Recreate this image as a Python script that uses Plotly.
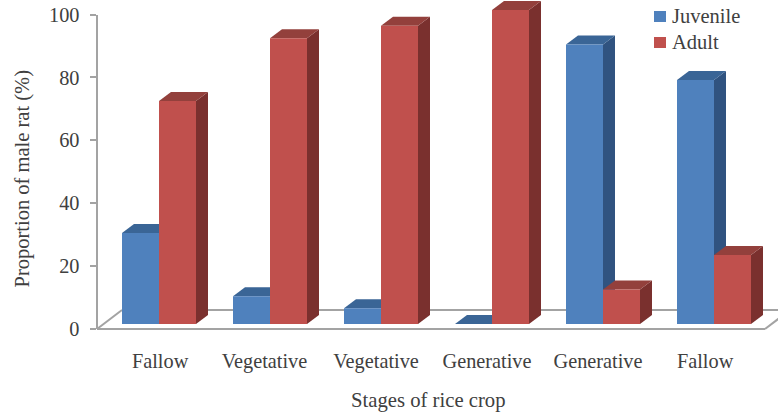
import plotly.graph_objects as go

categories = ["Fallow", "Vegetative", "Vegetative", "Generative", "Generative", "Fallow"]
juvenile = [29, 8.8, 5, 0, 89, 77.7]
adult = [71, 91, 95, 100, 11, 22]
y_ticks = [0, 20, 40, 60, 80, 100]
series_names = ["Juvenile", "Adult"]

W, H = 778, 413
FONT = "Liberation Serif"
TEXT = "#404040"
AXIS = "#a3a3a3"
BLUE, BLUE_TOP, BLUE_SIDE = "#4F81BD", "#3A6596", "#305380"
RED, RED_TOP, RED_SIDE = "#C0504D", "#93403C", "#7A302E"

# pixel geometry of the pseudo-3D plot
GROUP0_PX, GROUP_PX = 159.0, 111.0
BAR_W = 1 / 3
DEPTH_X = 12 / GROUP_PX
VAL_PX = 3.14
BASE_PX = 324.0
DEPTH_Y = 9 / VAL_PX
FLOOR_FRONT = (BASE_PX - 329) / VAL_PX
FLOOR_BACK = (BASE_PX - 310) / VAL_PX
LABEL_SHIFT = [0.01, -0.05, -0.045, -0.045, -0.045, -0.08]

x_range = [-GROUP0_PX / GROUP_PX, (W - GROUP0_PX) / GROUP_PX]
y2_range = [(BASE_PX - H) / VAL_PX, BASE_PX / VAL_PX]
x_idx = list(range(len(categories)))


def poly(pts, color):
    path = "M" + "L".join(f"{x:.4f},{y:.4f}" for x, y in pts) + "Z"
    return dict(type="path", xref="x", yref="y2", path=path, layer="below",
                fillcolor=color, line=dict(width=0))


def faces(left, value, top_color, side_color):
    right = left + BAR_W
    side = [(right, 0), (right + DEPTH_X, DEPTH_Y), (right + DEPTH_X, value + DEPTH_Y), (right, value)]
    top = [(left, value), (right, value), (right + DEPTH_X, value + DEPTH_Y), (left + DEPTH_X, value + DEPTH_Y)]
    return [poly(side, side_color), poly(top, top_color)]


def floor_line(x0, y0, x1, y1):
    return dict(type="line", xref="x", yref="y2", x0=x0, y0=y0, x1=x1, y1=y1,
                layer="below", line=dict(color=AXIS, width=2))


px_x = lambda p: (p - GROUP0_PX) / GROUP_PX
shapes = [
    floor_line(px_x(97), FLOOR_FRONT, px_x(765), FLOOR_FRONT),
    floor_line(px_x(122), FLOOR_BACK, px_x(785), FLOOR_BACK),
    floor_line(px_x(97), FLOOR_FRONT, px_x(122), FLOOR_BACK),
    floor_line(px_x(765), FLOOR_FRONT, px_x(790), FLOOR_BACK),
]
for i in x_idx:
    shapes += faces(i - BAR_W, juvenile[i], BLUE_TOP, BLUE_SIDE)
    shapes += faces(i, adult[i], RED_TOP, RED_SIDE)

annotations = [
    dict(text="Stages of rice crop", xref="paper", yref="paper", x=428.5 / W, y=1 - 400 / H,
         xanchor="center", yanchor="middle", showarrow=False, font=dict(size=20.7)),
    dict(text="Proportion of male rat (%)", xref="paper", yref="paper", x=21.5 / W, y=1 - 179 / H,
         xanchor="center", yanchor="middle", textangle=-90, showarrow=False, font=dict(size=20.5)),
]

# legend key, placed to match the reference's tight swatch-to-text gap
for name, color, cy in zip(series_names, [BLUE, RED], [16.5, 42.5]):
    shapes.append(dict(type="rect", xref="paper", yref="paper", x0=654 / W, x1=666 / W,
                       y0=1 - (cy + 5.5) / H, y1=1 - (cy - 5.5) / H, fillcolor=color,
                       line=dict(width=0), layer="above"))
    annotations.append(dict(text=name, xref="paper", yref="paper", x=670 / W, y=1 - cy / H,
                            xanchor="left", yanchor="middle", showarrow=False,
                            font=dict(size=20.5)))

fig = go.Figure()
fig.add_bar(x=x_idx, y=juvenile, name=series_names[0], marker=dict(color=BLUE, line=dict(width=0)), yaxis="y2")
fig.add_bar(x=x_idx, y=adult, name=series_names[1], marker=dict(color=RED, line=dict(width=0)), yaxis="y2")
# invisible trace keeps the tick axis alive
fig.add_scatter(x=[0], y=[0], mode="markers", marker=dict(opacity=0), showlegend=False,
                hoverinfo="skip", yaxis="y")

fig.update_layout(
    width=W, height=H, margin=dict(l=0, r=0, t=0, b=0, autoexpand=False), autosize=False,
    paper_bgcolor="white", plot_bgcolor="rgba(0,0,0,0)", showlegend=False,
    barmode="group", bargap=1 - 2 * BAR_W, bargroupgap=0,
    font=dict(family=FONT, color=TEXT, size=20.3),
    shapes=shapes, annotations=annotations,
    xaxis=dict(range=x_range, domain=[0, 1], anchor="y", showgrid=False, zeroline=False,
               showline=False, tickmode="array", automargin=False,
               tickvals=[i + s for i, s in zip(x_idx, LABEL_SHIFT)], ticktext=categories,
               ticks="", ticklabelstandoff=18),
    yaxis=dict(range=[0, 100], domain=[(H - 329) / H, (H - 14.5) / H], anchor="free",
               position=96.5 / W, showgrid=False, zeroline=False, showline=True, automargin=False,
               linecolor=AXIS, linewidth=2, ticks="outside", ticklen=6, tickwidth=2,
               tickcolor=AXIS, tickmode="array", tickvals=y_ticks, ticklabelstandoff=6),
    yaxis2=dict(range=y2_range, domain=[0, 1], anchor="x", visible=False),
)

fig.write_html("out.html", config=dict(displayModeBar=False),
               post_script="document.body.style.margin='0';")
